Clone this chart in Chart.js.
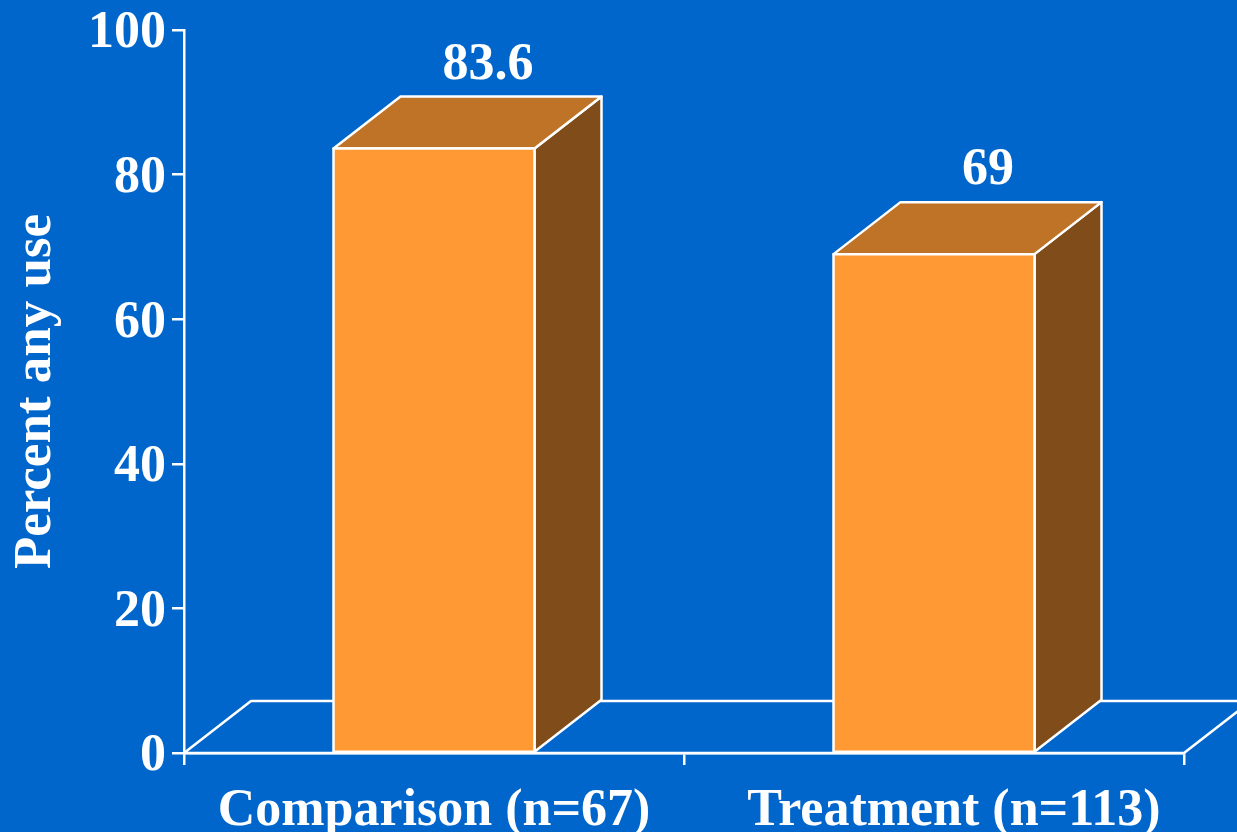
<!DOCTYPE html>
<html>
<head>
<meta charset="utf-8">
<title>Percent any use</title>
<script src="https://cdn.jsdelivr.net/npm/chart.js"></script>
<style>
  html, body { margin: 0; padding: 0; background: #0066cc; overflow: hidden; }
  canvas { display: block; }
</style>
</head>
<body>
<canvas id="chart" width="1237" height="832"></canvas>
<script>
const categories = ['Comparison (n=67)', 'Treatment (n=113)'];
const values = [83.6, 69];
const valueLabels = ['83.6', '69'];

const WHITE = '#ffffff';
const LINE = 2.5;
const FONT = 'bold 52px "Liberation Serif"';
// depth of the fake 3D box
const DX = 67;
const DY = 52;
// the second category label sits a bit right of its bar in the original
const LABEL_SHIFT = [0, 20];

function poly(ctx, pts, fill) {
  ctx.beginPath();
  pts.forEach((p, i) => i ? ctx.lineTo(p[0], p[1]) : ctx.moveTo(p[0], p[1]));
  ctx.closePath();
  if (fill) {
    ctx.fillStyle = fill;
    ctx.fill();
  }
  ctx.stroke();
}

const floorAndBoxes = {
  id: 'floorAndBoxes',
  beforeDatasetsDraw(chart) {
    const { ctx, chartArea: a } = chart;
    ctx.save();
    ctx.strokeStyle = WHITE;
    ctx.lineWidth = LINE;
    ctx.lineJoin = 'round';
    poly(ctx, [[a.left, a.bottom], [a.left + DX, a.bottom - DY], [a.right + DX, a.bottom - DY], [a.right, a.bottom]]);

    chart.getDatasetMeta(0).data.forEach(bar => {
      const l = bar.x - bar.width / 2;
      const r = bar.x + bar.width / 2;
      const t = bar.y;
      const b = bar.base;
      poly(ctx, [[r, t], [r + DX, t - DY], [r + DX, b - DY], [r, b]], '#804c19');
      poly(ctx, [[l, t], [l + DX, t - DY], [r + DX, t - DY], [r, t]], '#bf7326');
    });
    ctx.restore();
  },
  afterDatasetsDraw(chart) {
    const { ctx, chartArea: a } = chart;
    ctx.save();
    ctx.strokeStyle = WHITE;
    ctx.lineWidth = LINE;
    ctx.lineJoin = 'round';
    ctx.fillStyle = WHITE;
    ctx.font = FONT;
    ctx.textAlign = 'center';
    ctx.textBaseline = 'alphabetic';
    chart.getDatasetMeta(0).data.forEach((bar, i) => {
      const l = bar.x - bar.width / 2;
      const r = bar.x + bar.width / 2;
      poly(ctx, [[l, bar.y], [r, bar.y], [r, bar.base], [l, bar.base]]);
      ctx.fillText(valueLabels[i], bar.x + 54, bar.y - DY - 18);
      ctx.fillText(categories[i], bar.x + LABEL_SHIFT[i], a.bottom + 72);
    });
    ctx.restore();
  }
};

new Chart(document.getElementById('chart'), {
  type: 'bar',
  data: {
    labels: categories,
    datasets: [{
      data: values,
      backgroundColor: '#ff9933',
      borderWidth: 0,
      barPercentage: 0.402,
      categoryPercentage: 1
    }]
  },
  options: {
    responsive: false,
    devicePixelRatio: 1,
    animation: false,
    layout: { autoPadding: false, padding: { top: 30, right: 53, left: 0, bottom: 0 } },
    plugins: {
      legend: { display: false },
      tooltip: { enabled: false }
    },
    scales: {
      x: {
        afterFit(scale) { scale.height = 79; },
        border: { color: WHITE, width: LINE },
        grid: { color: WHITE, lineWidth: LINE, drawOnChartArea: false, tickLength: 12 },
        ticks: { display: false }
      },
      y: {
        min: 0,
        max: 100,
        afterFit(scale) {
          scale.width = 184;
          scale.paddingTop = 0;
          scale.paddingBottom = 0;
        },
        border: { color: WHITE, width: LINE },
        grid: { color: WHITE, lineWidth: LINE, drawOnChartArea: false, tickLength: 12 },
        ticks: { stepSize: 20, color: WHITE, font: { family: 'Liberation Serif', weight: 'bold', size: 52 }, padding: 6, labelOffset: 4 },
        title: {
          display: true,
          text: 'Percent any use',
          color: WHITE,
          font: { family: 'Liberation Serif', weight: 'bold', size: 53 },
          padding: { top: 5, bottom: 0 }
        }
      }
    }
  },
  plugins: [floorAndBoxes]
});
</script>
</body>
</html>
